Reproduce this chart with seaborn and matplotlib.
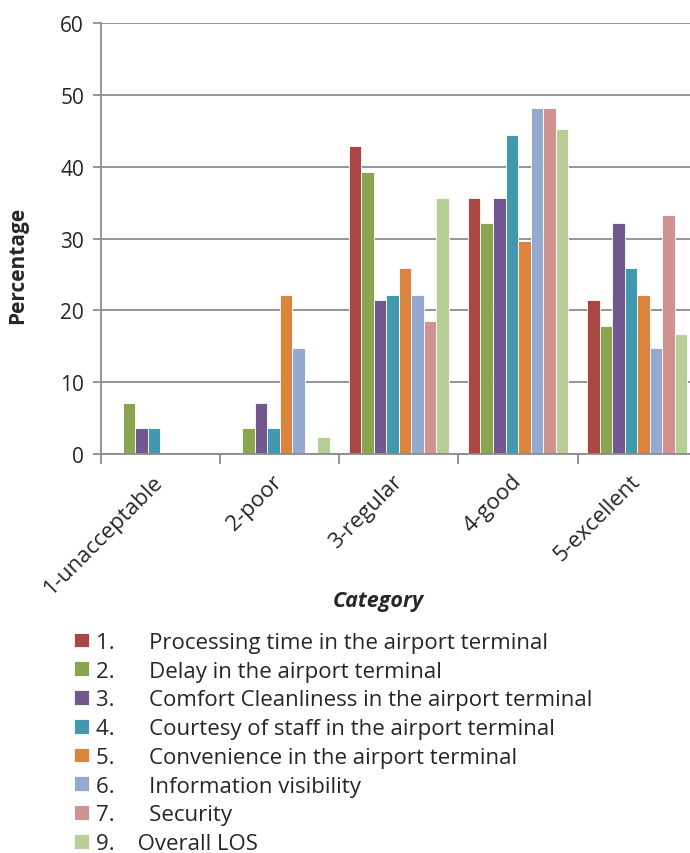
import pandas as pd
import seaborn as sns
import matplotlib.pyplot as plt

categories = ["1-unacceptable", "2-poor", "3-regular", "4-good", "5-excellent"]
series = [
    "1.      Processing time in the airport terminal",
    "2.      Delay in the airport terminal",
    "3.      Comfort Cleanliness in the airport terminal",
    "4.      Courtesy of staff in the airport terminal",
    "5.      Convenience in the airport terminal",
    "6.      Information visibility",
    "7.      Security",
    "9.    Overall LOS",
]
processing = [0, 0, 42.9, 35.7, 21.4]
delay = [7.1, 3.6, 39.3, 32.1, 17.9]
comfort = [3.6, 7.1, 21.4, 35.7, 32.1]
courtesy = [3.7, 3.7, 22.2, 44.4, 25.9]
convenience = [0, 22.2, 25.9, 29.6, 22.2]
information = [0, 14.8, 22.2, 48.1, 14.8]
security = [0, 0, 18.5, 48.1, 33.3]
overall = [0, 2.4, 35.7, 45.2, 16.7]

colors = ["#AA4643", "#89A54E", "#71588F", "#4198AF",
          "#DB843D", "#93A9CF", "#D19392", "#B9CD96"]

values = [processing, delay, comfort, courtesy, convenience, information, security, overall]
rows = []
for name, vals in zip(series, values):
    for cat, v in zip(categories, vals):
        rows.append({"Category": cat, "Series": name, "Percentage": v})
df = pd.DataFrame(rows)

sns.set_style("white")
plt.rcParams['font.family'] = ['Open Sans', 'DejaVu Sans']

fig = plt.figure(figsize=(6.9, 8.54), dpi=100)
ax = fig.add_axes([0.146, 0.467, 0.864, 0.505])

sns.barplot(data=df, x="Category", y="Percentage", hue="Series",
            palette=colors, saturation=1, width=0.84,
            edgecolor="white", linewidth=0.6, ax=ax)

ax.set_ylim(0, 60)
ax.set_xlim(-0.5, 4.5)
ax.set_yticks(range(0, 61, 10))
ax.yaxis.grid(True, color="#8c8c8c", linewidth=1.3)
ax.set_axisbelow(True)

for s in ["top", "right"]:
    ax.spines[s].set_visible(False)
for s in ["left", "bottom"]:
    ax.spines[s].set_color("#8c8c8c")
    ax.spines[s].set_linewidth(1.3)

# tick marks between categories, labels at category centres
ax.set_xticks([i - 0.5 for i in range(6)])
ax.set_xticklabels([])
ax.set_xticks(range(5), minor=True)
ax.set_xticklabels(categories, minor=True, rotation=45, ha="right", va="center",
                   rotation_mode="anchor", fontsize=16)
ax.tick_params(axis="x", which="minor", length=0, pad=17)
ax.tick_params(axis="x", which="major", length=7, width=1.3, color="#8c8c8c", direction="out", bottom=True)
ax.tick_params(axis="y", length=6, width=1.3, color="#8c8c8c", direction="out", labelsize=15, pad=6, left=True)

ax.set_xlabel("Category", fontsize=15.5, fontweight="bold", fontstyle="italic")
ax.set_ylabel("Percentage", fontsize=15, fontweight="bold")
ax.xaxis.set_label_coords(0.465, -0.314)
ax.yaxis.set_label_coords(-0.122, 0.44)

ax.legend_.remove()
handles, labels = ax.get_legend_handles_labels()
fig.legend(handles, labels, loc="upper left", bbox_to_anchor=(0.095, 0.2695),
           frameon=False, fontsize=16, handlelength=0.65, handleheight=0.65,
           handletextpad=0.3, labelspacing=0.35, borderaxespad=0)

fig.savefig("out.png", dpi=100)
